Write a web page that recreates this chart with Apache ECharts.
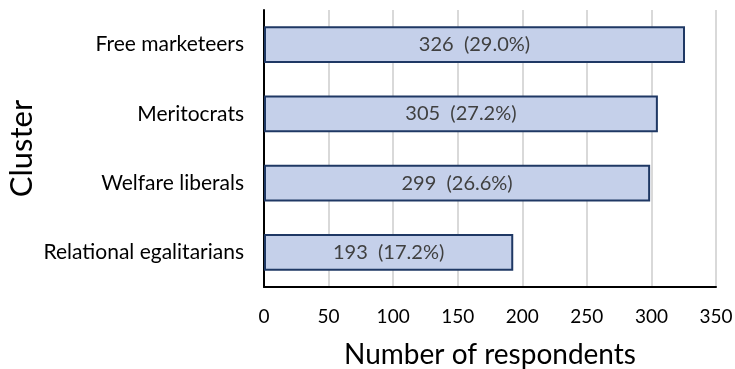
<!DOCTYPE html>
<html>
<head>
<meta charset="utf-8">
<script src="https://cdn.jsdelivr.net/npm/echarts@6/dist/echarts.min.js"></script>
<style>
  html, body { margin: 0; padding: 0; background: #fff; }
  #chart { width: 735px; height: 369px; }
</style>
</head>
<body>
<div id="chart"></div>
<script>
  // clusters, top to bottom in the picture
  var clusters = ['Free marketeers', 'Meritocrats', 'Welfare liberals', 'Relational egalitarians'];
  var respondents = [326, 305, 299, 193];
  var shares = ['29.0%', '27.2%', '26.6%', '17.2%'];
  var xTicks = [0, 50, 100, 150, 200, 250, 300, 350];

  var font = 'Lato, "Open Sans", sans-serif';
  var myChart = echarts.init(document.getElementById('chart'));
  myChart.setOption({
    animation: false,
    textStyle: { fontFamily: font },
    grid: {
      left: 264,
      right: 19,
      top: 10,
      bottom: 82,
      containLabel: false,
      outerBoundsMode: 'none'
    },
    xAxis: {
      type: 'value',
      min: xTicks[0],
      max: xTicks[xTicks.length - 1],
      interval: 50,
      name: 'Number of respondents',
      nameLocation: 'middle',
      nameGap: 54,
      nameMoveOverlap: false,
      nameTextStyle: { color: '#000', fontSize: 28, fontFamily: font },
      axisLine: { show: true, lineStyle: { color: '#000', width: 2 } },
      axisTick: { show: false },
      axisLabel: { color: '#000', fontSize: 19, margin: 20, fontFamily: font },
      splitLine: { show: true, lineStyle: { color: '#d9d9d9', width: 2 } }
    },
    yAxis: {
      type: 'category',
      inverse: true,
      data: clusters,
      name: 'Cluster',
      nameLocation: 'middle',
      nameGap: 227,
      nameMoveOverlap: false,
      nameRotate: 90,
      nameTextStyle: { color: '#000', fontSize: 31, fontFamily: font },
      axisLine: { show: true, lineStyle: { color: '#000', width: 2 } },
      axisTick: { show: false },
      axisLabel: { color: '#000', fontSize: 21, margin: 20, fontFamily: font }
    },
    series: [{
      type: 'bar',
      data: respondents,
      barWidth: '53%',
      itemStyle: {
        color: '#c5d0ea',
        borderColor: '#1f3864',
        borderWidth: 2
      },
      label: {
        show: true,
        position: 'inside',
        color: '#404040',
        fontSize: 20,
        fontFamily: font,
        formatter: function (p) {
          return p.value + '  (' + shares[p.dataIndex] + ')';
        }
      }
    }]
  });
</script>
</body>
</html>
